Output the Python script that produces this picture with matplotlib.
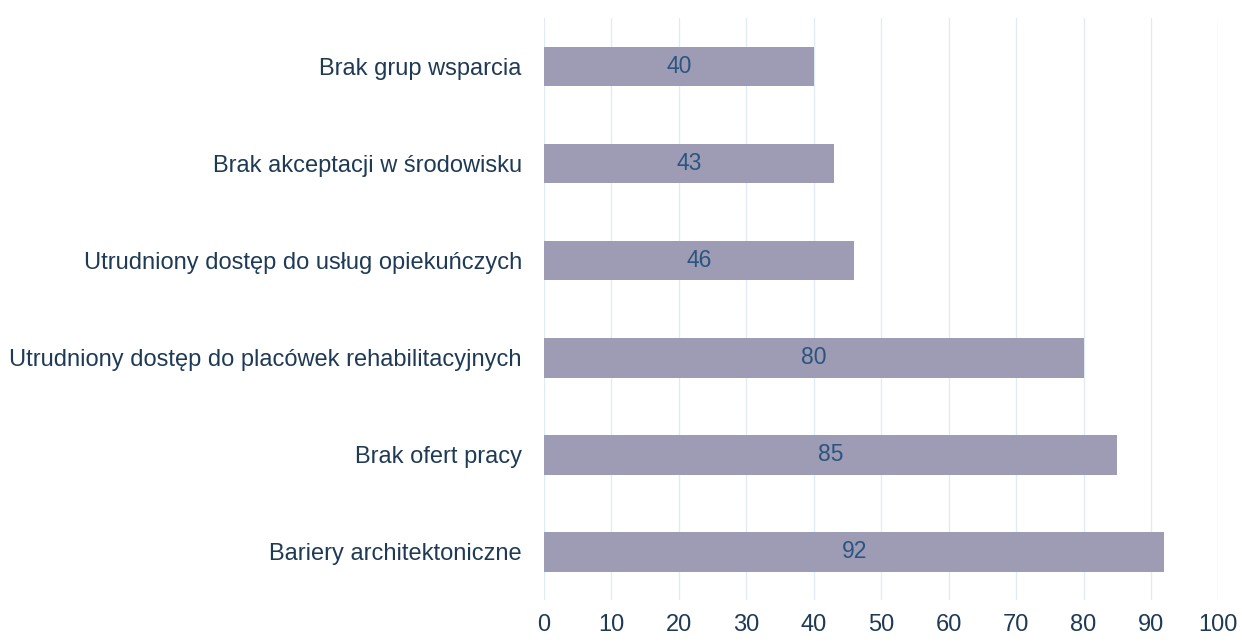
import numpy as np
import matplotlib.pyplot as plt

categories = ["Bariery architektoniczne", "Brak ofert pracy",
              "Utrudniony dostęp do placówek rehabilitacyjnych",
              "Utrudniony dostęp do usług opiekuńczych",
              "Brak akceptacji w środowisku", "Brak grup wsparcia"]
values = [92, 85, 80, 46, 43, 40]
xticks = [0, 10, 20, 30, 40, 50, 60, 70, 80, 90, 100]

plt.rcParams['font.family'] = ['Liberation Sans', 'DejaVu Sans']

fig = plt.figure(figsize=(12.42, 6.42), dpi=100)
ax = fig.add_axes([0.438, 0.065, 0.543, 0.907])

y = np.arange(len(categories))
ax.barh(y, values, height=0.41, color="#9e9cb4", zorder=2)
for yi, v in zip(y, values):
    ax.text(v / 2, yi, str(v), ha="center", va="center", fontsize=16.5, color="#2b5580", zorder=3)

ax.set_xlim(0, 100)
ax.set_ylim(-0.5, len(categories) - 0.5)
ax.set_yticks(y)
ax.set_yticklabels(categories, fontsize=17, color="#1f3a55")
ax.set_xticks(xticks)
ax.set_xticklabels([str(t) for t in xticks], fontsize=17, color="#1f3a55")
ax.tick_params(axis="y", length=0, pad=16)
ax.tick_params(axis="x", length=0, pad=10)
ax.grid(axis="x", color="#e1ebf5", linewidth=1.0, zorder=0)
for s in ax.spines.values():
    s.set_visible(False)

plt.savefig("out.png", dpi=100)
